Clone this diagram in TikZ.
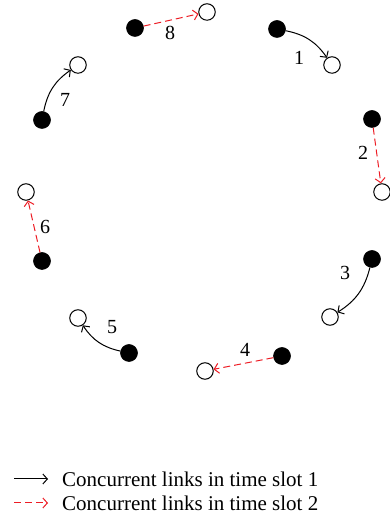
\documentclass[tikz,border=0pt]{standalone}
\usepackage{fontspec}
\setmainfont{Liberation Serif}
\usetikzlibrary{arrows.meta}
\definecolor{linkred}{RGB}{237,28,36}
\tikzset{
  full/.style={circle,fill=black,draw=black,line width=0.6pt,minimum size=17pt,inner sep=0pt},
  empty/.style={circle,fill=white,draw=black,line width=1pt,minimum size=16.5pt,inner sep=0pt},
  slotone/.style={line width=1pt,draw=black,-{Straight Barb[length=4.5pt,width=10pt,line width=1pt]}},
  slottwo/.style={line width=1pt,draw=linkred,dash pattern=on 7pt off 4pt,-{Straight Barb[length=4.5pt,width=10pt,line width=1pt]}},
  lbl/.style={font=\fontsize{20}{23}\selectfont,inner sep=0pt},
  legtext/.style={font=\fontsize{21}{24}\selectfont,anchor=west,inner sep=0pt}
}
\begin{document}
\begin{tikzpicture}[x=1pt,y=1pt]
\useasboundingbox (0,0) rectangle (389,521);
% pair 1
\node[full] (f1) at (277,492) {};
\node[empty] (o1) at (332,456) {};
\node[lbl] (l1) at (299,463) {1};
\draw[slotone] (f1) to[bend left=22] (o1);
% pair 2
\node[full] (f2) at (372,402) {};
\node[empty] (o2) at (382,329) {};
\node[lbl] (l2) at (363,368) {2};
\draw[slottwo] (f2) -- (o2);
% pair 3
\node[full] (f3) at (372,262) {};
\node[empty] (o3) at (330,204) {};
\node[lbl] (l3) at (345,248) {3};
\draw[slotone] (f3) to[bend left=22] (o3);
% pair 4
\node[full] (f4) at (282,165) {};
\node[empty] (o4) at (205,150) {};
\node[lbl] (l4) at (245,171) {4};
\draw[slottwo] (f4) -- (o4);
% pair 5
\node[full] (f5) at (129,168) {};
\node[empty] (o5) at (78,203) {};
\node[lbl] (l5) at (112,194) {5};
\draw[slotone] (f5) to[bend left=22] (o5);
% pair 6
\node[full] (f6) at (42,260) {};
\node[empty] (o6) at (26,329) {};
\node[lbl] (l6) at (45,294) {6};
\draw[slottwo] (f6) -- (o6);
% pair 7
\node[full] (f7) at (42,401) {};
\node[empty] (o7) at (78,456) {};
\node[lbl] (l7) at (65,421) {7};
\draw[slotone] (f7) to[bend left=22] (o7);
% pair 8
\node[full] (f8) at (135,493) {};
\node[empty] (o8) at (207,509) {};
\node[lbl] (l8) at (170,488) {8};
\draw[slottwo] (f8) -- (o8);
% legend
\coordinate (a1s) at (14,42);
\coordinate (a1e) at (48,42);
\coordinate (a2s) at (14,18);
\coordinate (a2e) at (48,18);
\draw[slotone] (a1s) -- (a1e);
\draw[slottwo] (a2s) -- (a2e);
\node[legtext] (t1) at (62,42) {Concurrent links in time slot 1};
\node[legtext] (t2) at (62,18) {Concurrent links in time slot 2};
\end{tikzpicture}
\end{document}
